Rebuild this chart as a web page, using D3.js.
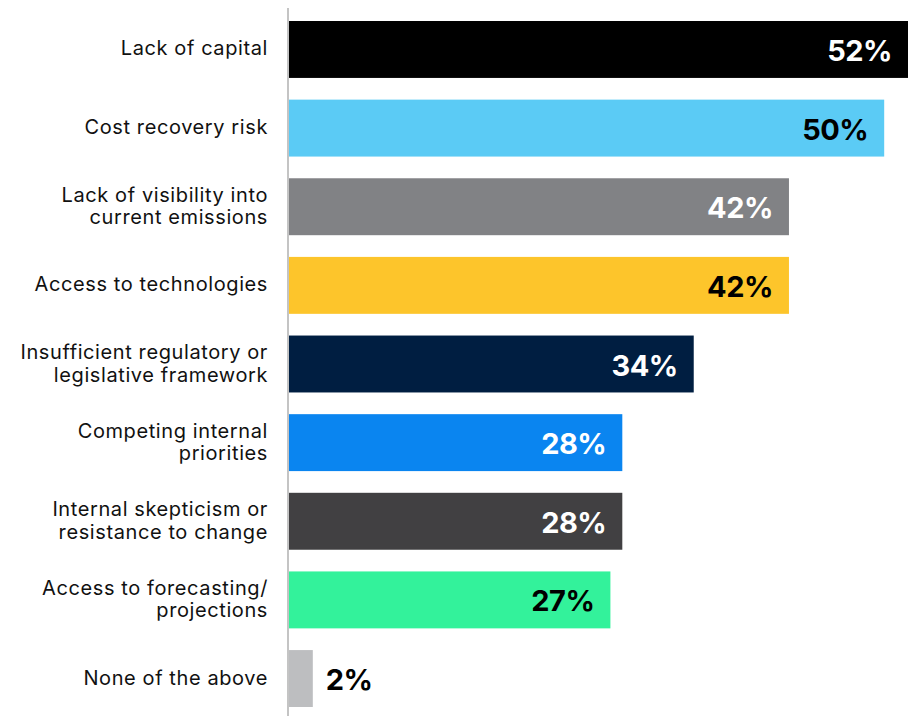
<!DOCTYPE html>
<html>
<head>
<meta charset="utf-8">
<script src="https://cdn.jsdelivr.net/npm/d3@7"></script>
<style>
  html, body { margin: 0; padding: 0; background: #ffffff; }
  svg { display: block; }
</style>
</head>
<body>
<svg id="chart" width="909" height="716"></svg>
<script>
// Barriers to decarbonisation, share of respondents (%)
const categories = [
  ["Lack of capital"],
  ["Cost recovery risk"],
  ["Lack of visibility into", "current emissions"],
  ["Access to technologies"],
  ["Insufficient regulatory or", "legislative framework"],
  ["Competing internal", "priorities"],
  ["Internal skepticism or", "resistance to change"],
  ["Access to forecasting/", "projections"],
  ["None of the above"]
];
const values = [52, 50, 42, 42, 34, 28, 28, 27, 2];
const barColors = ["#000000", "#5BCBF5", "#818285", "#FDC52B", "#001E41", "#0A85F0", "#414042", "#33F29B", "#BDBEC0"];
const labelColors = ["#ffffff", "#000000", "#ffffff", "#000000", "#ffffff", "#ffffff", "#ffffff", "#000000", "#000000"];

const svg = d3.select("#chart");
const x0 = 289;

const x = d3.scaleLinear().domain([0, 52]).range([x0, 908]);
const y = d3.scaleBand()
  .domain(d3.range(categories.length))
  .range([21, 707])
  .paddingInner(0.276)
  .paddingOuter(0);

const rows = svg.selectAll("g.row")
  .data(values.map((v, i) => ({ v, i })))
  .join("g")
  .attr("class", "row");

rows.append("rect")
  .attr("x", x0)
  .attr("y", d => y(d.i))
  .attr("width", d => x(d.v) - x0)
  .attr("height", y.bandwidth())
  .attr("fill", d => barColors[d.i]);

// value labels: inside the bar end, or just outside for short bars
rows.append("text")
  .attr("x", d => (x(d.v) - x0 > 80) ? x(d.v) - 16 : x(d.v) + 13)
  .attr("y", d => y(d.i) + y.bandwidth() / 2 + 11.5)
  .attr("text-anchor", d => (x(d.v) - x0 > 80) ? "end" : "start")
  .attr("font-family", "Inter, Lato, sans-serif")
  .attr("font-weight", 700)
  .attr("font-size", 29)
  .attr("letter-spacing", -0.5)
  .attr("fill", d => labelColors[d.i])
  .text(d => d.v + "%");

// category labels, right-aligned left of the axis
const cat = svg.selectAll("text.cat")
  .data(categories)
  .join("text")
  .attr("class", "cat")
  .attr("text-anchor", "end")
  .attr("font-family", "Inter, Lato, sans-serif")
  .attr("font-size", 20)
  .attr("letter-spacing", 0.6)
  .attr("fill", "#111111");

cat.each(function(lines, i) {
  const cy = y(i) + y.bandwidth() / 2;
  const first = lines.length === 1 ? cy + 6 : cy - 5;
  d3.select(this).selectAll("tspan")
    .data(lines)
    .join("tspan")
    .attr("x", 268)
    .attr("y", (t, j) => first + j * 22.5)
    .text(t => t);
});

// vertical baseline axis
svg.append("line")
  .attr("x1", 288).attr("x2", 288)
  .attr("y1", 8).attr("y2", 716)
  .attr("stroke", "#C4C4C4")
  .attr("stroke-width", 2);
</script>
</body>
</html>
